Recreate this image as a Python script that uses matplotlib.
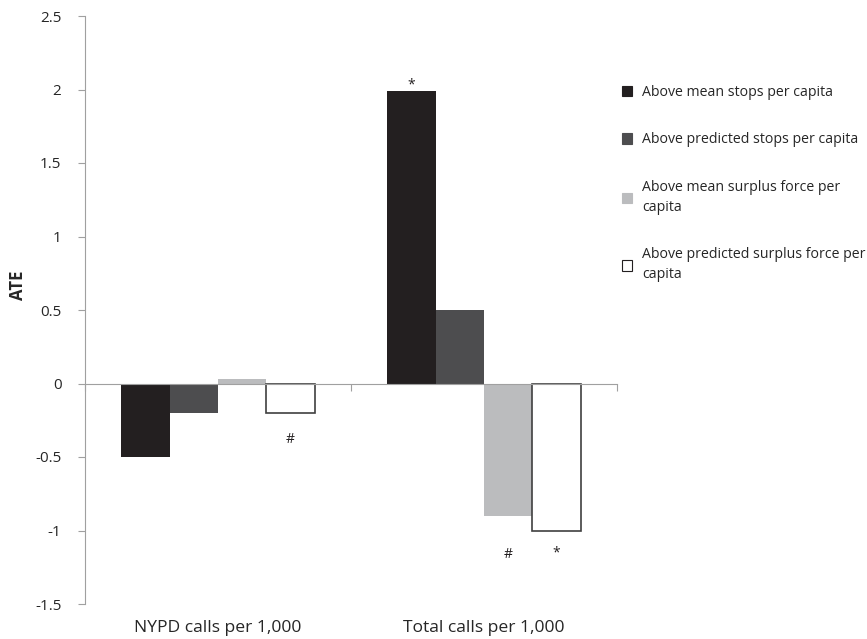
import numpy as np
import matplotlib.pyplot as plt
from matplotlib.patches import Patch
from matplotlib.transforms import blended_transform_factory

plt.rcParams['font.family'] = ['Open Sans', 'DejaVu Sans']

categories = ['NYPD calls per 1,000', 'Total calls per 1,000']
series = ['Above mean stops per capita',
          'Above predicted stops per capita',
          'Above mean surplus force per\ncapita',
          'Above predicted surplus force per\ncapita']
mean_stops = [-0.5, 1.99]
pred_stops = [-0.2, 0.5]
mean_force = [0.03, -0.9]
pred_force = [-0.2, -1.0]
# significance marks: (category, series, symbol)
marks = [(0, 3, '#'), (1, 0, '*'), (1, 2, '#'), (1, 3, '*')]

colors = ['#231f20', '#4d4d4f', '#bbbcbe', 'white']
values = [mean_stops, pred_stops, mean_force, pred_force]

fig = plt.figure(figsize=(8.67, 6.39), dpi=100)
ax = fig.add_axes([85 / 867, 35 / 639, 532 / 867, 588 / 639])

x = np.arange(len(categories))
w = 0.1815
for i, (vals, c) in enumerate(zip(values, colors)):
    ec = '#404040' if c == 'white' else c
    ax.bar(x + (i - 1.5) * w, vals, width=w, color=c, edgecolor=ec,
           linewidth=1.2 if c == 'white' else 0, label=series[i], zorder=2)

# marks sit just outside the bar end; '#' under the light bar drops lower
# so it lines up with the '*' next to it
mark_gap = {(0, 3): -0.18, (1, 0): 0.02, (1, 2): -0.26, (1, 3): -0.17}
for ci, si, sym in marks:
    v = values[si][ci]
    xp = x[ci] + (si - 1.5) * w
    dy = 0.02 if sym == '*' else 0
    ax.text(xp, v + mark_gap[(ci, si)] + dy, sym, ha='center', va='center',
            fontsize=10, color='#231f20')

ax.set_xlim(-0.5, 1.5)
ax.set_ylim(-1.5, 2.5)
ax.set_yticks(np.arange(-1.5, 2.51, 0.5))
ax.set_yticklabels(['-1.5', '-1', '-0.5', '0', '0.5', '1', '1.5', '2', '2.5'])

for s in ['top', 'right']:
    ax.spines[s].set_visible(False)
ax.spines['left'].set_color('#a0a0a0')
ax.spines['bottom'].set_color('#a0a0a0')
ax.spines['bottom'].set_position(('data', 0))
ax.spines['bottom'].set_zorder(3)
ax.set_xticks([-0.5, 0.5, 1.5])
ax.set_xticklabels([])
ax.tick_params(axis='x', direction='out', length=5, color='#a0a0a0')
ax.tick_params(axis='y', direction='out', length=5, color='#a0a0a0',
               labelsize=11, labelcolor='#262626', pad=12)

trans = blended_transform_factory(ax.transData, ax.transAxes)
for xi, name in zip(x, categories):
    ax.text(xi, -0.04, name, transform=trans, ha='center', va='center',
            fontsize=12.6, color='#262626')

fig.text(18 / 867, 1 - 285 / 639, 'ATE', rotation=90, ha='center', va='center',
         fontsize=12, fontweight='bold', color='#262626')

handles = [Patch(facecolor=c, edgecolor='#231f20' if c == 'white' else c,
                 linewidth=0.8) for c in colors]
leg = fig.legend(handles, series, loc='upper left',
                 bbox_to_anchor=(609 / 867, 1 - 72 / 639),
                 frameon=False, fontsize=10.2, handlelength=0.75, handleheight=0.75,
                 handletextpad=0.7, labelspacing=2.3, labelcolor='#262626')
for t in leg.get_texts():
    t.set_linespacing(1.45)

fig.savefig('out.png', dpi=100)
